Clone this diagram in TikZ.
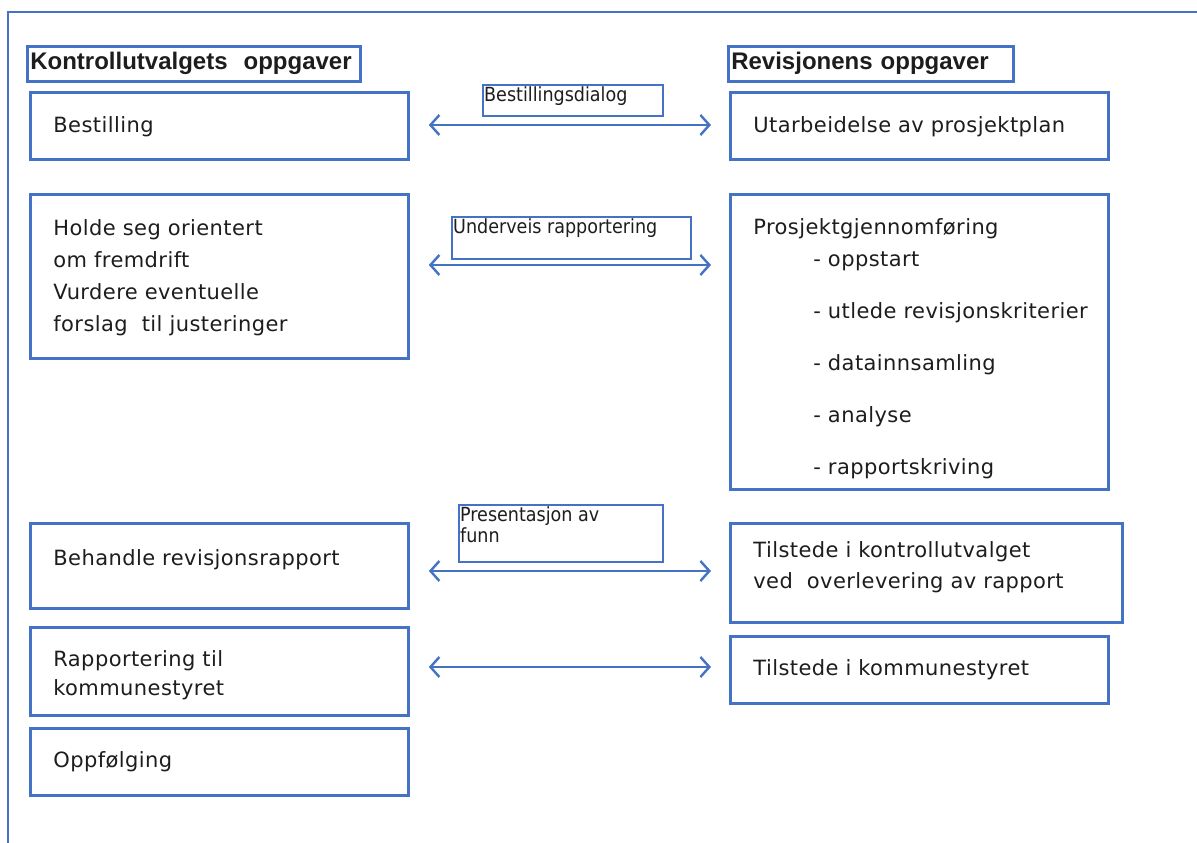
\documentclass[tikz,border=0pt]{standalone}
\usepackage{fontspec}
\setmainfont{DejaVu Sans}[LetterSpace=2]
\newfontfamily\headfont{Liberation Sans}
\newfontfamily\lblfont{DejaVu Sans Condensed}
\usetikzlibrary{arrows.meta,calc}
\definecolor{boxblue}{RGB}{68,114,196}
\definecolor{ink}{RGB}{30,28,30}

\begin{document}
\begin{tikzpicture}[x=1pt,y=1pt,
    task/.style={draw=boxblue, line width=2.8pt, anchor=north west, align=left,
      inner xsep=23pt, inner ysep=0pt, text width=332pt, text=ink,
      font=\fontsize{21}{32}\selectfont},
    head/.style={draw=boxblue, line width=2.6pt, anchor=north west, align=left,
      inner xsep=3pt, inner ysep=0pt, minimum height=35pt, text=ink,
      font=\headfont\bfseries\fontsize{24}{28}\selectfont},
    dlgbox/.style={draw=boxblue, line width=2.4pt, anchor=north west},
    dlgtxt/.style={font=\lblfont\fontsize{19.5}{21}\selectfont, text=ink,
      anchor=north west, inner sep=2pt, align=left},
    dialog/.style={draw=boxblue, line width=2.4pt,
      {Straight Barb[length=9pt,width=20pt]}-{Straight Barb[length=9pt,width=20pt]}}]
    \useasboundingbox (0,0) rectangle (1197,843);

    \draw [boxblue, line width=2.4pt] (8,0) -- (8,831) -- (1197,831);

    \node [head, text width=327pt] (kuhead) at (26,798) {\mbox{Kontrollutvalgets~ oppgaver}};
    \node [head, text width=279pt] (revhead) at (727,798) {\mbox{Revisjonens oppgaver}};

    \node [task, minimum height=67pt] (best) at (29,752) {\rule{0pt}{18pt}Bestilling};
    \node [task, minimum height=164pt] (holde) at (29,650)
      {\rule{0pt}{19pt}Holde seg orientert\\om fremdrift\\Vurdere eventuelle\\forslag~ til justeringer};
    \node [task, minimum height=85pt] (behandle) at (29,321)
      {Behandle revisjonsrapport\rule[-17pt]{0pt}{0pt}};
    \node [task, minimum height=88pt, font=\fontsize{21}{29}\selectfont] (rapp) at (29,217)
      {\rule{0pt}{24pt}Rapportering til\\kommunestyret};
    \node [task, minimum height=67pt] (oppf) at (29,116) {Oppfølging};

    \node [task, minimum height=67pt] (utarb) at (729,752) {\rule{0pt}{18pt}Utarbeidelse av prosjektplan};
    \node [task, minimum height=295pt] (prosj) at (729,650)
      {\rule{0pt}{30pt}Prosjektgjennomføring\\
       \hspace*{60pt}- oppstart\\[20pt]
       \hspace*{60pt}\mbox{- utlede revisjonskriterier}\\[20pt]
       \hspace*{60pt}- datainnsamling\\[20pt]
       \hspace*{60pt}- analyse\\[20pt]
       \hspace*{60pt}- rapportskriving};
    \node [task, text width=346pt, minimum height=99pt, font=\fontsize{21}{31}\selectfont] (tilku) at (729,321)
      {Tilstede i kontrollutvalget\\ved~ overlevering av rapport\rule[-16pt]{0pt}{0pt}};
    \node [task, minimum height=67pt] (tilks) at (729,208) {Tilstede i kommunestyret};

    \node [dlgbox, minimum width=180pt, minimum height=31pt,
      label={[dlgtxt]north west:Bestillingsdialog}] (dlg1) at (482,759) {};
    \node [dlgbox, minimum width=239pt, minimum height=42pt,
      label={[dlgtxt]north west:Underveis rapportering}] (dlg2) at (451,627) {};
    \node [dlgbox, minimum width=204pt, minimum height=57pt,
      label={[dlgtxt]north west:Presentasjon av\\funn}] (dlg3) at (458,339) {};

    \coordinate (row1) at (0,718);
    \coordinate (row2) at (0,578);
    \coordinate (row3) at (0,272);
    \coordinate (row4) at (0,176);

    \draw [dialog] ($(best.east |- row1)+(19,0)$) -- ($(utarb.west |- row1)+(-18,0)$);
    \draw [dialog] ($(holde.east |- row2)+(19,0)$) -- ($(prosj.west |- row2)+(-18,0)$);
    \draw [dialog] ($(behandle.east |- row3)+(19,0)$) -- ($(tilku.west |- row3)+(-18,0)$);
    \draw [dialog] ($(rapp.east |- row4)+(19,0)$) -- ($(tilks.west |- row4)+(-18,0)$);
  \end{tikzpicture}
\end{document}
